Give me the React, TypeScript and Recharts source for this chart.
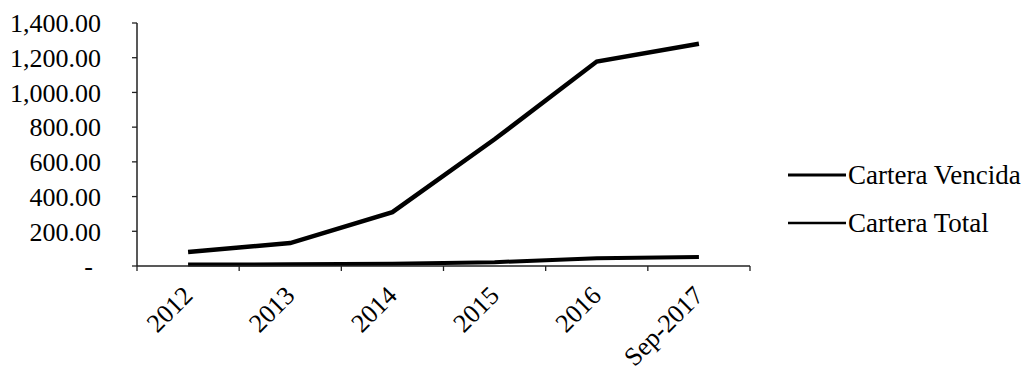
import React from 'react';
import { LineChart, Line, XAxis, YAxis, Legend } from 'recharts';

// Categories (x axis)
const years = ['2012', '2013', '2014', '2015', '2016', 'Sep-2017'];
// Series values
const carteraTotal = [81, 132, 310, 730, 1178, 1280];
const carteraVencida = [8, 10, 13, 22, 45, 52];
// Y axis tick values
const yTicks = [0, 200, 400, 600, 800, 1000, 1200, 1400];
// Series names, in legend order
const seriesNames = ['Cartera Vencida', 'Cartera Total'];

const data = years.map((year, i) => ({
  year,
  total: carteraTotal[i],
  vencida: carteraVencida[i],
}));

const FONT = "'Liberation Serif', 'Times New Roman', Times, serif";
const AXIS_COLOR = '#222';

const fmt = (v: number) =>
  v === 0 ? '-' : v.toLocaleString('en-US', { minimumFractionDigits: 2, maximumFractionDigits: 2 });

const YTick = (props: any) => {
  const { x, y, payload } = props;
  return (
    <text
      x={x}
      y={y}
      dy="0.355em"
      dx={payload.value === 0 ? -8 : 0}
      textAnchor="end"
      fontFamily={FONT}
      fontSize={26}
      fill="#000"
    >
      {fmt(payload.value)}
    </text>
  );
};

// Category ticks: tick marks sit on the band edges, labels rotated at the band centre
const XTick = (props: any) => {
  const { x, y, payload } = props;
  const off = payload.offset || 0;
  const isLast = payload.value === years[years.length - 1];
  const tx = x + 6;
  const ty = y + 31;
  return (
    <g>
      <line x1={x - off} x2={x - off} y1={y} y2={y + 5} stroke={AXIS_COLOR} strokeWidth={1.3} />
      {isLast && (
        <line x1={x + off} x2={x + off} y1={y} y2={y + 5} stroke={AXIS_COLOR} strokeWidth={1.3} />
      )}
      <text
        x={tx}
        y={ty}
        textAnchor="end"
        transform={`rotate(-45, ${tx}, ${ty})`}
        fontFamily={FONT}
        fontSize={26}
        fill="#000"
      >
        {payload.value}
      </text>
    </g>
  );
};

const LegendContent = (props: any) => {
  const { payload = [] } = props;
  const items = [...payload].sort(
    (a: any, b: any) => seriesNames.indexOf(a.value) - seriesNames.indexOf(b.value)
  );
  return (
    <div style={{ fontFamily: FONT, fontSize: 27, color: '#000' }}>
      {items.map((p: any, i: number) => (
        <div key={p.value} style={{ display: 'flex', alignItems: 'center', height: 48 }}>
          <svg width={58} height={10} style={{ display: 'block' }}>
            <line x1={0} x2={58} y1={5} y2={5} stroke={p.color} strokeWidth={i === 0 ? 3.2 : 2.6} />
          </svg>
          <span style={{ marginLeft: 2, whiteSpace: 'nowrap' }}>{p.value}</span>
        </div>
      ))}
    </div>
  );
};

export default function App() {
  return (
    <div style={{ position: 'absolute', left: 0, top: 0, width: 1032, height: 373, background: '#fff' }}>
      <LineChart
        width={1032}
        height={373}
        data={data}
        margin={{ top: 23, right: 38, bottom: 0, left: 0 }}
      >
        <XAxis
          dataKey="year"
          scale="band"
          interval={0}
          height={107}
          tickLine={false}
          tickSize={0}
          tickMargin={0}
          axisLine={{ stroke: AXIS_COLOR, strokeWidth: 1.5 }}
          tick={<XTick />}
        />
        <YAxis
          width={137}
          domain={[0, 1400]}
          ticks={yTicks}
          interval={0}
          tickSize={5}
          tickMargin={31}
          tickLine={{ stroke: AXIS_COLOR, strokeWidth: 1.3 }}
          axisLine={{ stroke: AXIS_COLOR, strokeWidth: 1.5 }}
          tick={<YTick />}
        />
        <Legend
          layout="vertical"
          align="right"
          verticalAlign="top"
          width={244}
          wrapperStyle={{ left: 788, top: 151 }}
          content={<LegendContent />}
        />
        <Line
          type="linear"
          dataKey="vencida"
          name={seriesNames[0]}
          stroke="#000"
          strokeWidth={4}
          dot={false}
          activeDot={false}
          isAnimationActive={false}
        />
        <Line
          type="linear"
          dataKey="total"
          name={seriesNames[1]}
          stroke="#000"
          strokeWidth={4.5}
          dot={false}
          activeDot={false}
          isAnimationActive={false}
        />
      </LineChart>
    </div>
  );
}
